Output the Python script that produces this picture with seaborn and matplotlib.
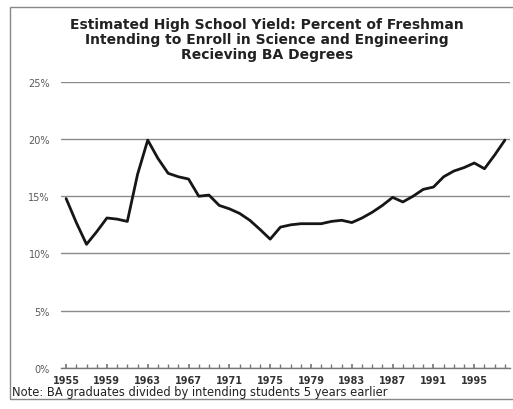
import numpy as np
import pandas as pd
import matplotlib
matplotlib.use("Agg")
import matplotlib.pyplot as plt
import seaborn as sns
from matplotlib.patches import Rectangle
from matplotlib.ticker import MultipleLocator, FuncFormatter

# Yield values (percent)
years = list(range(1955, 1999))
yield_pct = [14.8, 12.7, 10.8, 11.9, 13.1, 13.0, 12.8, 16.9, 19.9, 18.3,
             17.0, 16.7, 16.5, 15.0, 15.1, 14.2, 13.9, 13.5, 12.9, 12.1,
             11.25, 12.3, 12.5, 12.6, 12.6, 12.6, 12.8, 12.9, 12.7, 13.1,
             13.6, 14.2, 14.9, 14.5, 15.0, 15.6, 15.8, 16.7, 17.2, 17.5,
             17.9, 17.4, 18.6, 19.9]
label_years = [1955, 1959, 1963, 1967, 1971, 1975, 1979, 1983, 1987, 1991, 1995]

df = pd.DataFrame({"Year": years, "Yield": yield_pct})

sns.set_theme(style="white")
plt.rcParams['font.family'] = ['DejaVu Sans']

fig = plt.figure(figsize=(5.13, 4.10), dpi=100)
ax = fig.add_axes([61/513, 1 - 369/410, (510 - 61)/513, (369 - 82.7)/410])

sns.lineplot(data=df, x="Year", y="Yield", color="#161616", linewidth=2.0, ax=ax)

ax.set_xlim(1954.5, 1998.5)
ax.set_ylim(0, 25)
ax.set_yticks([0, 5, 10, 15, 20, 25])
ax.yaxis.set_major_formatter(FuncFormatter(lambda v, p: "%d%%" % v))
ax.set_xticks(label_years)
ax.xaxis.set_minor_locator(MultipleLocator(1))
ax.grid(axis="y", color="#8a8a8a", linewidth=1.0)
ax.set_axisbelow(True)
for s in ["left", "right", "top"]:
    ax.spines[s].set_visible(False)
ax.spines["bottom"].set_color("#777777")
ax.spines["bottom"].set_linewidth(1.0)
ax.tick_params(axis="x", which="both", direction="in", length=3, color="#777777",
               bottom=True, labelsize=7, labelcolor="#333333", pad=5)
ax.tick_params(axis="y", length=0, labelsize=7, labelcolor="#5a5a5a", pad=8)
for lab in ax.get_xticklabels():
    lab.set_fontweight("bold")
ax.set_xlabel("")
ax.set_ylabel("")

fig.text(267/513, 1 - 18/410,
         "Estimated High School Yield: Percent of Freshman\n"
         "Intending to Enroll in Science and Engineering\n"
         "Recieving BA Degrees",
         ha="center", va="top", fontsize=10, fontweight="bold", color="#222222",
         linespacing=1.1)

fig.text(12/513, 1 - 393/410, "Note: BA graduates divided by intending students 5 years earlier",
         ha="left", va="center", fontsize=8.3, color="#222222")

fig.patches.append(Rectangle((10/513, 1 - 400/410), 1.2, (400 - 8)/410,
                             transform=fig.transFigure, fill=False,
                             edgecolor="#888888", linewidth=1.0))

fig.savefig("out.png", dpi=100)
